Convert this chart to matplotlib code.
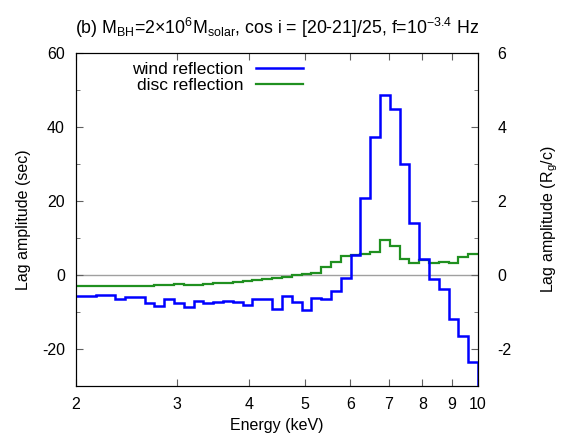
import matplotlib
matplotlib.use("Agg")
import matplotlib.pyplot as plt
import numpy as np
from matplotlib.ticker import FixedLocator, NullLocator, FixedFormatter, MultipleLocator

plt.rcParams['font.family'] = ['Liberation Sans', 'DejaVu Sans']
plt.rcParams['mathtext.fontset'] = 'custom'
plt.rcParams['mathtext.rm'] = 'Liberation Sans'
plt.rcParams['mathtext.it'] = 'Liberation Sans:italic'
plt.rcParams['font.size'] = 11.5
plt.rcParams['axes.unicode_minus'] = False

# energy bins: 41 log-spaced bins between 2 and 10 keV
e_lo, e_hi, n_bins = 2.0, 10.0, 41

# lag amplitude (sec) per bin
wind = [-5.7, -5.7, -5.4, -5.4, -6.6, -5.9, -5.9, -7.7, -8.3, -6.6,
        -7.5, -8.6, -6.9, -7.7, -7.3, -6.9, -7.3, -8.0, -6.6, -6.6,
        -9.2, -5.8, -7.4, -9.5, -6.1, -6.6, -4.2, -0.9, 5.4, 20.7,
        37.2, 48.6, 44.9, 30.0, 14.1, 4.2, -1.1, -3.9, -12.0, -16.5,
        -23.6]
wind_next = -35.0  # first bin above 10 keV, off the plot

disc = [-3.1, -3.1, -3.05, -3.05, -3.0, -2.95, -2.9, -2.85, -2.8, -2.7,
        -2.35, -2.75, -2.6, -2.45, -2.3, -2.1, -1.9, -1.7, -1.45, -1.2,
        -0.95, -0.6, 0.1, 0.35, 0.65, 2.25, 3.4, 5.2, 5.4, 5.6,
        6.3, 9.5, 7.8, 4.3, 3.3, 4.05, 3.15, 3.6, 3.3, 4.95,
        5.8]

xticks = [2, 3, 4, 5, 6, 7, 8, 9, 10]

edges = np.geomspace(e_lo, e_hi, n_bins + 1)
edges_ext = np.append(edges, edges[-1] * edges[1] / edges[0])

fig = plt.figure(figsize=(5.7, 4.43), dpi=100)
ax = fig.add_axes([0.1333, 0.1287, 0.7053, 0.7517])

ax.axhline(0, color='#a0a0a0', lw=1.0, zorder=1)
ax.stairs(wind + [wind_next], edges_ext, baseline=None, color='#0000ff',
          lw=1.8, label='wind reflection', zorder=3)
ax.stairs(disc, edges, baseline=None, color='#209020',
          lw=1.6, label='disc reflection', zorder=2)

ax.set_xscale('log')
ax.set_xlim(e_lo, e_hi)
ax.set_ylim(-30, 60)
ax.xaxis.set_major_locator(FixedLocator(xticks))
ax.xaxis.set_major_formatter(FixedFormatter([str(t) for t in xticks]))
ax.xaxis.set_minor_locator(NullLocator())
ax.yaxis.set_major_locator(MultipleLocator(20))
ax.yaxis.set_minor_locator(MultipleLocator(10))
ax.tick_params(which='both', direction='in', top=True, right=False,
               color='#606060')
ax.tick_params(which='major', length=5, pad=8)
ax.tick_params(which='minor', length=3)

ax.set_xlabel('Energy (keV)', labelpad=4)
ax.set_ylabel('Lag amplitude (sec)', labelpad=8)

ax2 = ax.twinx()
ax2.set_ylim(-3, 6)
ax2.yaxis.set_major_locator(MultipleLocator(2))
ax2.yaxis.set_minor_locator(MultipleLocator(1))
ax2.tick_params(which='both', direction='in', color='#606060')
ax2.tick_params(which='major', length=5, pad=14)
ax2.tick_params(which='minor', length=3)
ax2.set_ylabel(r'Lag amplitude (R$_\mathrm{g}$/c)', labelpad=20)

ax.set_title(r'(b) M$_\mathrm{BH}$=2$\times$10$^\mathrm{6}$M$_\mathrm{solar}$, '
             r'cos i = [20-21]/25, f=10$^\mathrm{-3.4}$ Hz', pad=14,
             fontsize=12.8)

ax.legend(loc='upper left', bbox_to_anchor=(0.11, 1.01), frameon=False,
          markerfirst=False, handlelength=2.7, handletextpad=0.7,
          labelspacing=0.05, borderaxespad=0.3, fontsize=12.5)

fig.savefig('out.png', dpi=100)
